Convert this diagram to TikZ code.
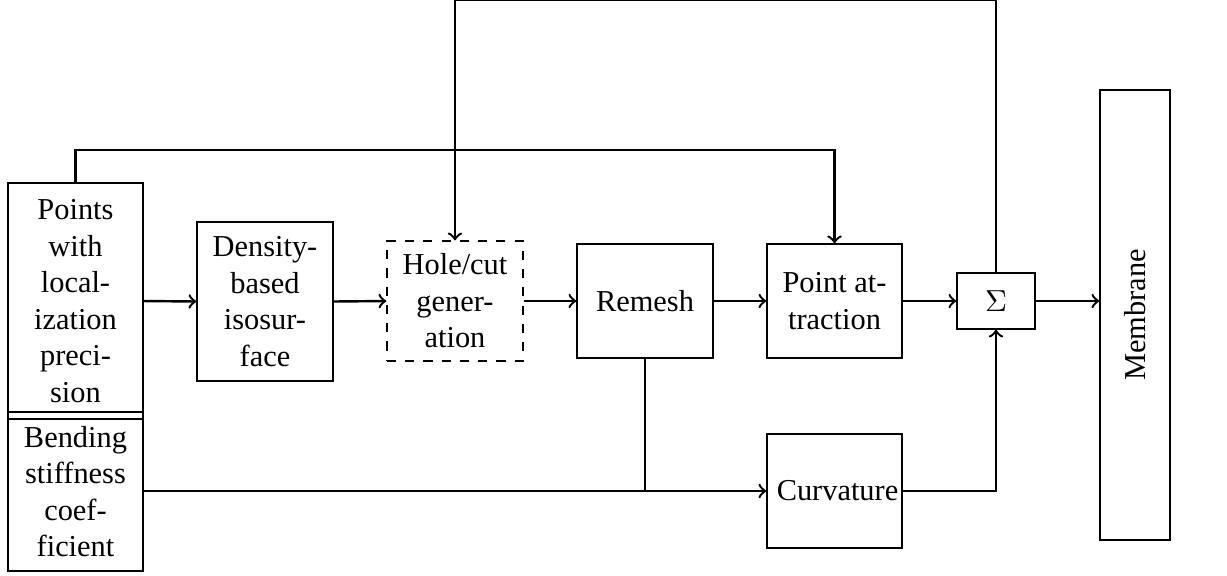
\documentclass[tikz,border=0pt]{standalone}
\usepackage{fontspec}
\setmainfont{Liberation Serif}
\begin{document}
\begin{tikzpicture}[x=0.329pt,y=-0.329pt,
  blk/.style={draw,thin,inner sep=0pt,align=center,font=\normalsize},
  conn/.style={thick,->}]
\useasboundingbox (0,0) rectangle (1227,575);
\node[blk,minimum width={135*0.329pt},minimum height={236*0.329pt}] (pts) at (75.5,301) {Points\\with\\local-\\ization\\preci-\\sion};
\node[blk,minimum width={135*0.329pt},minimum height={159*0.329pt}] (bend) at (75.5,491.5) {Bending\\stiffness\\coef-\\ficient};
\node[blk,minimum width={136*0.329pt},minimum height={159*0.329pt}] (dens) at (265,301.5) {Density-\\based\\isosur-\\face};
\node[blk,dashed,minimum width={136*0.329pt},minimum height={120*0.329pt}] (hole) at (455,301) {Hole/cut\\gener-\\ation};
\node[blk,minimum width={136*0.329pt},minimum height={114*0.329pt}] (rem) at (645,301) {Remesh};
\node[blk,minimum width={135*0.329pt},minimum height={114*0.329pt}] (pa) at (834.5,301) {Point at-\\traction};
\node[blk,minimum width={135*0.329pt},minimum height={114*0.329pt}] (curv) at (834.5,491) {\makebox[40pt][l]{\hspace{1pt}Curvature}};
\node[blk,minimum width={78*0.329pt},minimum height={56*0.329pt}] (sig) at (996,301) {$\Sigma$};
\node[blk,minimum width={70*0.329pt},minimum height={450*0.329pt}] (mem) at (1135,315) {\rotatebox{90}{Membrane}};
\coordinate (t0) at (0,0);
\coordinate (t1) at (0,150);
\draw[conn] (pts.east) -- (dens.west);
\draw[conn] (dens.east) -- (hole.west);
\draw[conn] (hole.east) -- (rem.west);
\draw[conn] (rem.east) -- (pa.west);
\draw[conn] (pa.east) -- (sig.west);
\draw[conn] (sig.east) -- (sig.east -| mem.west);
\draw[conn] (pts.north) -- (pts.north |- t1) -| (pa.north);
\draw[conn] (sig.north) -- (sig.north |- t0) -| (hole.north);
\draw[conn] (bend.east |- curv.west) -- (curv.west);
\draw[thick] (rem.south) -- (rem.south |- curv.west);
\draw[conn] (curv.east) -| (sig.south);
\end{tikzpicture}
\end{document}
